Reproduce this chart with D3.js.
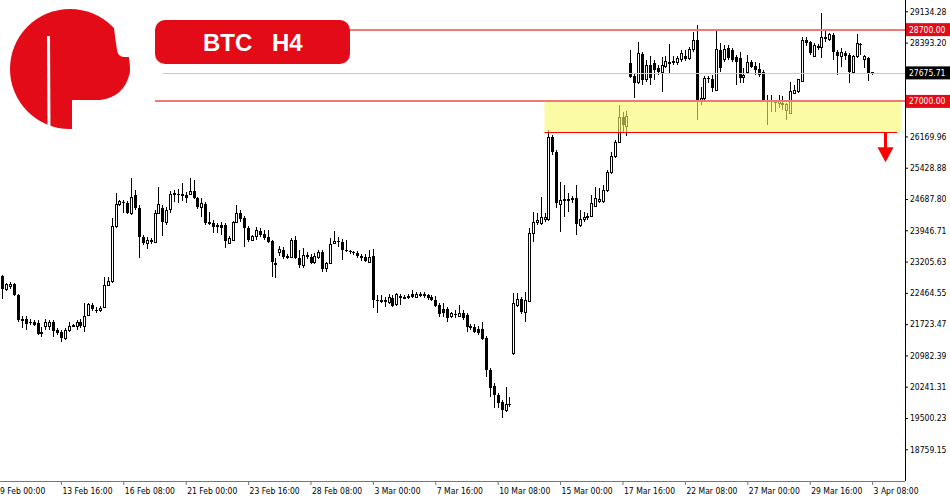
<!DOCTYPE html>
<html>
<head>
<meta charset="utf-8">
<script src="https://cdn.jsdelivr.net/npm/d3@7"></script>
<style>
  body { margin: 0; background: #fff; }
  svg text { font-family: "DejaVu Sans Condensed", "DejaVu Sans", sans-serif; }
</style>
</head>
<body>
<svg id="chart" width="950" height="500"></svg>
<script>
// H4 bars, index 0 = 9 Feb 00:00 (weekends are skipped by the broker feed)
const firstBar = 1;
// [open, high, low, close]
const candles = [
  [22864,22887,22319,22556],[22556,22698,22508,22674],[22627,22722,22556,22674],[22674,22698,22390,22414],[22414,22437,21774,21821],
  [21845,21916,21632,21798],[21845,21916,21584,21727],[21774,21845,21703,21750],[21774,21821,21679,21703],[21750,21821,21466,21490],
  [21513,21656,21419,21537],[21679,21845,21584,21774],[21656,21821,21584,21774],[21774,21821,21419,21561],[21584,21632,21466,21513],
  [21537,21584,21300,21395],[21395,21632,21347,21584],[21584,21774,21537,21679],[21679,21727,21656,21703],[21656,21821,21584,21774],
  [21774,21845,21632,21679],[21679,22224,21537,21916],[21940,22224,21916,22200],[22177,22224,22035,22082],[22058,22129,21987,22035],
  [22035,22153,22011,22106],[22129,22840,22106,22650],[22650,22840,22627,22722],[22745,24238,22698,24025],[24025,24830,24001,24546],
  [24546,24664,24522,24617],[24617,24664,24356,24593],[24593,24640,24332,24356],[24356,25185,24309,24735],[24782,24901,24427,24475],
  [24475,24546,23290,23788],[23788,23835,23598,23645],[23645,23788,23503,23716],[23693,23764,23622,23716],[23669,24427,23645,24356],
  [24356,24972,24332,24569],[24475,24546,23811,24143],[24143,24498,24072,24427],[24451,24877,24356,24806],[24806,24901,24617,24830],
  [24806,24925,24593,24782],[24782,25067,24640,24806],[24782,24854,24593,24711],[24806,25185,24782,24877],[24877,25138,24688,24711],
  [24711,24735,24451,24498],[24475,24711,24261,24593],[24569,24617,24072,24119],[24119,24380,24072,24143],[24119,24190,23882,24025],
  [24048,24119,23882,24072],[24072,24143,23835,24001],[24072,24119,23527,23693],[23645,23811,23622,23764],[23716,24167,23693,24143],
  [24143,24546,24119,24356],[24356,24427,24143,24214],[24238,24285,23551,24001],[24001,24048,23669,23716],[23716,23835,23693,23788],
  [23811,24025,23716,23953],[23930,24001,23788,23835],[23859,23953,23716,23764],[23788,23953,23645,23669],[23693,23716,22840,23195],
  [23172,23290,22816,23124],[23432,23574,23337,23503],[23480,23551,23266,23314],[23314,23385,23266,23337],[23314,23764,23290,23716],
  [23716,23811,23266,23290],[23290,23480,23053,23124],[23101,23527,23053,23361],[23361,23432,23266,23314],[23314,23385,23148,23172],
  [23195,23408,23148,23337],[23314,23480,23266,23432],[23432,23480,22958,23030],[23030,23195,22958,23172],[23172,23764,23148,23622],
  [23645,23930,23622,23693],[23693,23788,23551,23669],[23669,23740,23243,23480],[23480,23716,23432,23456],[23456,23480,23385,23432],
  [23432,23456,23361,23408],[23408,23456,23290,23337],[23337,23385,23219,23290],[23314,23385,23195,23219],[23195,23480,23172,23314],
  [23337,23503,22106,22295],[22295,22414,21987,22271],[22271,22414,22224,22295],[22295,22366,22129,22248],[22248,22437,22200,22343],
  [22343,22414,22129,22153],[22200,22461,22153,22414],[22390,22437,22177,22343],[22343,22414,22319,22366],[22366,22437,22319,22390],
  [22437,22532,22343,22366],[22366,22485,22343,22437],[22414,22485,22366,22437],[22414,22485,22343,22437],[22414,22437,22295,22343],
  [22366,22414,22271,22295],[22295,22390,22129,22153],[22177,22224,21892,21964],[22082,22224,21892,21987],[22082,22129,21774,21869],
  [21916,22011,21869,21964],[21964,22058,21869,21940],[21916,22177,21892,21987],[21987,22058,21821,21869],[21940,21987,21537,21656],
  [21679,21727,21584,21632],[21656,21727,21513,21537],[21608,21679,21466,21513],[21608,21774,21347,21371],[21395,21442,20471,20637],
  [20637,20684,19997,20210],[20258,20329,19737,20045],[20045,20092,19737,19855],[19879,19926,19500,19689],[19689,20234,19642,19831],
  [19831,19997,19760,19808],[21040,22461,20992,22224],[22177,22461,22129,22319],[22319,22366,21964,22011],[22011,22485,21774,22295],
  [22271,24001,22248,23882],[23882,24380,23669,24143],[24143,24356,24072,24167],[24119,24735,24072,24238],[24214,24356,24143,24238],
  [24214,26322,24167,26156],[26156,26204,25730,25801],[25801,25849,24475,24593],[24546,25090,23906,24664],[24664,25020,24261,24688],
  [24664,24830,24380,24688],[24688,24759,24593,24711],[24711,25020,23835,24096],[24072,24427,24025,24214],[24214,24380,24143,24261],
  [24261,24356,24190,24285],[24285,24782,24261,24593],[24522,24972,24498,24711],[24617,24948,24593,24688],[24640,25020,24593,24901],
  [24901,25375,24854,25304],[25304,25801,25280,25683],[25683,26085,25660,26038],[26038,26915,26014,26630],[26630,26749,26251,26441],
  [26417,26772,26180,26654],[27910,28218,27554,27578],[27602,27673,27080,27436],[27436,28407,27412,28146],[28123,28170,27388,27507],
  [27507,27981,27459,27862],[27862,28075,27388,27554],[27910,27981,27507,27744],[27791,27862,27625,27696],[27696,28052,27223,27839],
  [27815,28075,27791,27957],[27886,28360,27673,27933],[27933,28075,27862,27957],[27910,28075,27862,28028],[27981,28218,27933,28123],
  [28075,28218,27957,28004],[28028,28289,27981,28218],[28218,28644,28170,28454],[28454,28810,26559,26986],[27009,27341,26915,27080],
  [27080,27602,27033,27554],[27554,27602,27436,27531],[27531,27625,27223,27317],[27270,28668,27246,28218],[28218,28383,27696,27791],
  [27981,28336,27933,28218],[28265,28336,27981,28028],[28218,28265,27933,27981],[28052,28099,27388,27933],[28028,28170,27436,27554],
  [27578,27791,27436,27625],[27696,28099,27673,27933],[27933,27981,27791,27815],[27839,27933,27625,27744],[27768,27910,27578,27625],
  [27696,27744,26986,27033],[27033,27151,26441,27009],[27009,27151,26749,26986],[26986,27033,26749,26962],[26962,27151,26844,26986],
  [26915,27128,26796,26962],[26796,26962,26559,26915],[26725,27459,26701,27223],[27199,27388,27175,27270],[27223,27531,27199,27507],
  [27483,28525,27459,28454],[28454,28525,28312,28383],[28407,28431,28099,28146],[28075,28383,28052,28336],[28265,28360,28218,28312],
  [28265,29094,28028,28502],[28502,28691,28407,28525],[28478,28620,28431,28573],[28573,28620,27981,28170],[28170,28218,27625,28075],
  [28075,28265,27815,28170],[28146,28194,27981,28075],[28099,28146,27436,27696],[27696,28099,27673,28052],[28052,28597,28028,28360],
  [28360,28383,28099,28336],[27981,28099,27791,28052],[28028,28052,27483,27673],[27673,27696,27625,27675.71]
];

const dateLabels = ["9 Feb 00:00","13 Feb 16:00","16 Feb 08:00","21 Feb 00:00","23 Feb 16:00","28 Feb 08:00","3 Mar 00:00",
  "7 Mar 16:00","10 Mar 08:00","15 Mar 00:00","17 Mar 16:00","22 Mar 08:00","27 Mar 00:00","29 Mar 16:00","3 Apr 08:00"];
const barsPerLabel = 16;
const priceTicks = [29134.28, 28393.20, 26169.96, 25428.88, 24687.80, 23946.71, 23205.63,
  22464.55, 21723.47, 20982.39, 20241.31, 19500.23, 18759.15];

const lastPrice = 27675.71;
const resistance = 28700;
const support = 27000;
const zoneLow = 26270;
const zoneBars = [140, 231.4];
const arrowBar = 227.4;
const arrowTarget = 25560;
const titleParts = ["BTC", "H4"];

const plotRight = 905, plotBottom = 481;
const red = "#e30b17";

const svg = d3.select("#chart");

const x = d3.scaleLinear().domain([0, 224]).range([-1.5, 872.1]);
const y = d3.scaleLinear().domain([18008, 29402]).range([plotBottom, 0]);

// candles
const cg = svg.append("g").attr("shape-rendering", "crispEdges");
const bars = cg.selectAll("g.bar")
  .data(candles.map((d, k) => ({i: k + firstBar, o: d[0], h: d[1], l: d[2], c: d[3]})))
  .join("g").attr("class", "bar");

bars.append("line")
  .attr("x1", d => Math.round(x(d.i)) + 0.5)
  .attr("x2", d => Math.round(x(d.i)) + 0.5)
  .attr("y1", d => y(d.h))
  .attr("y2", d => y(d.l))
  .attr("stroke", "#000");

bars.append("rect")
  .attr("x", d => d.c > d.o ? Math.round(x(d.i)) - 0.5 : Math.round(x(d.i)) - 1)
  .attr("width", d => d.c > d.o ? 2 : 3)
  .attr("y", d => y(Math.max(d.o, d.c)))
  .attr("height", d => Math.max(1, y(Math.min(d.o, d.c)) - y(Math.max(d.o, d.c))))
  .attr("fill", d => d.c > d.o ? "#fff" : "#000")
  .attr("stroke", d => d.c > d.o ? "#000" : "none");

// supply / demand zone
svg.append("rect")
  .attr("x", x(zoneBars[0]))
  .attr("width", x(zoneBars[1]) - x(zoneBars[0]))
  .attr("y", y(support))
  .attr("height", y(zoneLow) - y(support))
  .attr("fill", "#f8f869")
  .attr("opacity", 0.6);

svg.append("line")
  .attr("x1", x(zoneBars[0])).attr("x2", x(zoneBars[1]) - 4)
  .attr("y1", Math.round(y(zoneLow)) + 0.5).attr("y2", Math.round(y(zoneLow)) + 0.5)
  .attr("stroke", "#ff0000");

// arrow
const ax = Math.round(x(arrowBar)) + 0.5;
svg.append("line")
  .attr("x1", ax).attr("x2", ax)
  .attr("y1", y(zoneLow)).attr("y2", y(arrowTarget) - 12)
  .attr("stroke", "#ff0000").attr("stroke-width", 3);
svg.append("path")
  .attr("d", `M${ax - 8},${y(arrowTarget) - 15}L${ax + 8},${y(arrowTarget) - 15}L${ax},${y(arrowTarget)}Z`)
  .attr("fill", "#ff0000");

// horizontal lines
svg.append("line")
  .attr("x1", 163).attr("x2", plotRight)
  .attr("y1", Math.round(y(lastPrice)) + 0.5).attr("y2", Math.round(y(lastPrice)) + 0.5)
  .attr("stroke", "#c8c8c8");
[resistance, support].forEach(v => {
  svg.append("line")
    .attr("x1", 155).attr("x2", plotRight)
    .attr("y1", Math.round(y(v))).attr("y2", Math.round(y(v)))
    .attr("stroke", "#f27878").attr("stroke-width", 2);
});

// axes
const xAxis = svg.append("g")
  .attr("transform", "translate(0," + plotBottom + ")")
  .call(d3.axisBottom(x)
    .tickValues(dateLabels.map((d, k) => k * barsPerLabel))
    .tickFormat((d, k) => dateLabels[k])
    .tickSize(4).tickSizeOuter(0));
xAxis.select(".domain").attr("stroke", "#777").attr("d", "M0,0.5H" + plotRight);
xAxis.selectAll(".tick line").attr("stroke", "#777");
xAxis.selectAll("text")
  .attr("text-anchor", "start").attr("x", 1).attr("y", 7)
  .attr("font-size", "8.5px").attr("fill", "#000");
xAxis.attr("font-family", null);

const yAxis = svg.append("g")
  .attr("transform", "translate(" + plotRight + ",0)")
  .call(d3.axisRight(y)
    .tickValues(priceTicks)
    .tickFormat(d => d.toFixed(2))
    .tickSize(3).tickPadding(2).tickSizeOuter(0));
yAxis.select(".domain").attr("stroke", "#000").attr("d", "M0.5,0V" + plotBottom);
yAxis.selectAll(".tick line").attr("stroke", "#000");
yAxis.selectAll("text").attr("font-size", "8.5px").attr("fill", "#000");
yAxis.attr("font-family", null);

// price tags
[[resistance, red], [lastPrice, "#000"], [support, red]].forEach(([v, col]) => {
  const cy = y(v);
  svg.append("rect").attr("x", 906).attr("y", cy - 6.5).attr("width", 44).attr("height", 13).attr("fill", col);
  svg.append("text").attr("x", 909).attr("y", cy + 3)
    .attr("font-size", "8.5px").attr("fill", "#fff").text(v.toFixed(2));
});

// logo: red disc with the white cuts forming the "F"
const logo = svg.append("g");
logo.append("circle").attr("cx", 70).attr("cy", 69).attr("r", 60).attr("fill", red);
logo.append("path").attr("fill", "#fff")
  .attr("d", "M47,36 L50,36 L50.5,131 L47.5,131 Z");
logo.append("path").attr("fill", "#fff")
  .attr("d", "M113,20 L140,20 L140,57 L124,57 Q118,57 117,50 L115,36 Z");
logo.append("path").attr("fill", "#fff")
  .attr("d", "M72,100 L100,100 Q124,97 129.5,74 L145,74 L145,140 L72,140 Z");

// title badge
svg.append("rect").attr("x", 155).attr("y", 20).attr("width", 195).attr("height", 44).attr("rx", 10).attr("fill", red);
svg.selectAll("text.title")
  .data(titleParts)
  .join("text").attr("class", "title")
  .attr("x", (d, k) => k === 0 ? 203 : 272)
  .attr("y", 51)
  .style("font-family", "'Liberation Sans', Arial, sans-serif")
  .style("font-weight", "bold").style("font-size", "24px")
  .attr("fill", "#fff")
  .text(d => d);
</script>
</body>
</html>
